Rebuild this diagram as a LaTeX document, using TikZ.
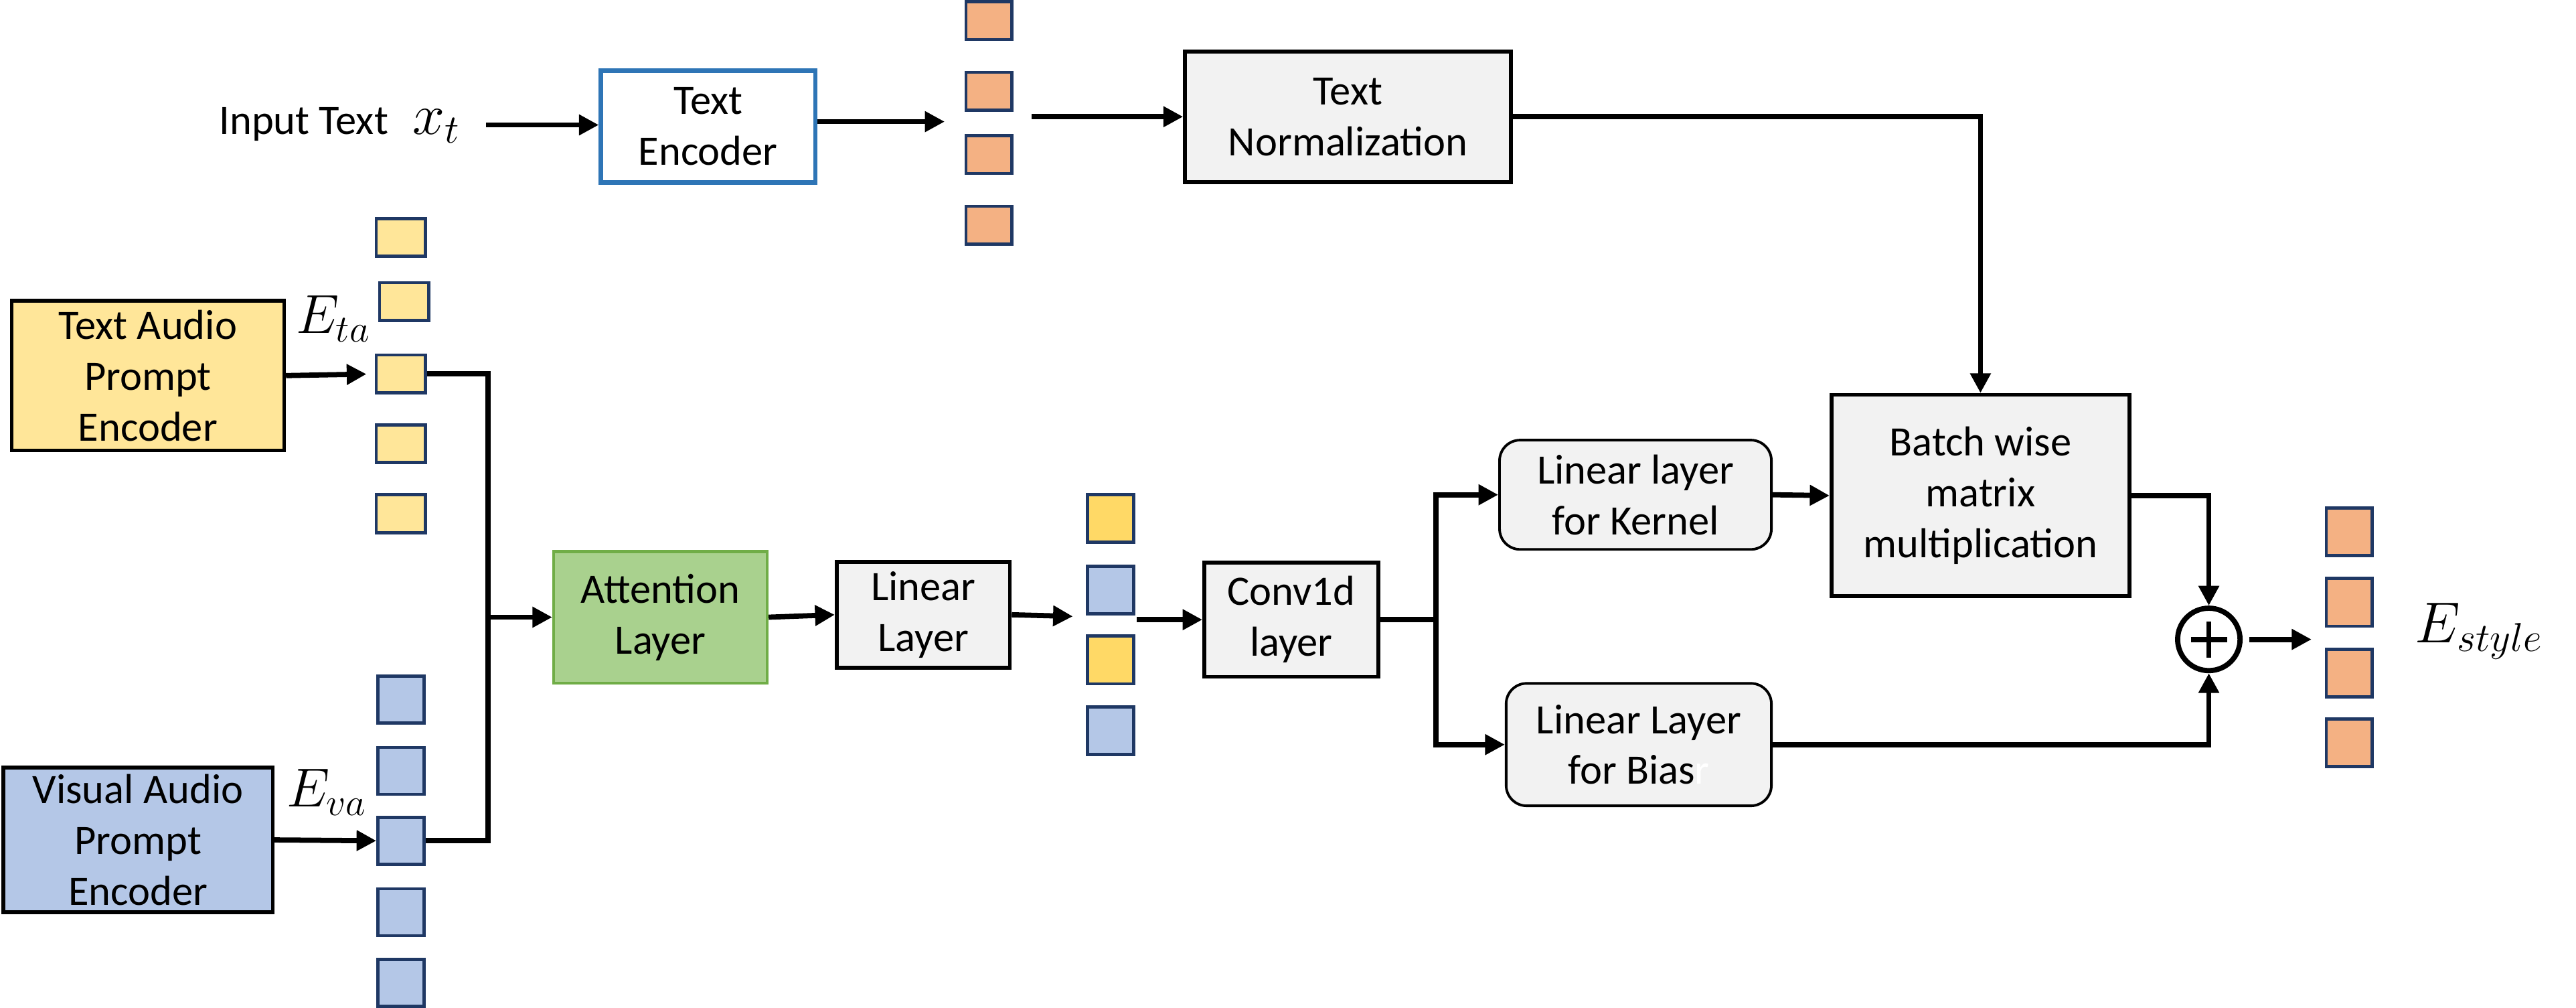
\RequirePackage{fix-cm}
\documentclass[tikz,border=0pt]{standalone}
\usepackage{fontspec}
\setmainfont{Carlito}
\usetikzlibrary{arrows.meta}
\definecolor{tapeyellow}{HTML}{FFE699}
\definecolor{midyellow}{HTML}{FFD966}
\definecolor{vapeblue}{HTML}{B4C7E7}
\definecolor{outorange}{HTML}{F4B183}
\definecolor{sqborder}{HTML}{1F3864}
\definecolor{attgreen}{HTML}{A9D18E}
\definecolor{attborder}{HTML}{70AD47}
\definecolor{boxgray}{HTML}{F2F2F2}
\definecolor{encblue}{HTML}{2E75B6}

\begin{document}
\begin{tikzpicture}[x=0.02cm, y=-0.02cm,
    block/.style={rectangle, draw, line width=1.3pt, fill=boxgray, align=center, inner sep=0pt, font=\fontsize{14.5}{17.6}\selectfont},
    rblock/.style={block, rounded corners=0.25cm, line width=0.9pt},
    vec/.style={rectangle, draw=sqborder, line width=1.1pt, inner sep=0pt, minimum width=0.56cm, minimum height=0.58cm},
    sumnode/.style={circle, draw, line width=1.8pt, minimum size=0.76cm, inner sep=0pt,
        path picture={\draw [line width=1.8pt] ([xshift=-0.22cm]path picture bounding box.center) -- ([xshift=0.22cm]path picture bounding box.center)
            ([yshift=-0.22cm]path picture bounding box.center) -- ([yshift=0.22cm]path picture bounding box.center);}},
    lbl/.style={inner sep=0pt, font=\fontsize{19}{19}\selectfont}]
    \useasboundingbox (0,0) rectangle (1568,613);

    \node [inner sep=0.3cm, font=\fontsize{14.5}{17.6}\selectfont] (inp) at (207,76) {Input Text\hspace{0.3cm}{\fontsize{20}{20}\selectfont$x_t$}};

    \node [block, fill=white, draw=encblue, line width=1.5pt, minimum width=2.61cm, minimum height=1.36cm] (tenc) at (431,77) {Text\\Encoder};
    \node [block, minimum width=3.97cm, minimum height=1.59cm] (tnorm) at (820.5,71) {Text\\Normalization};
    \node [block, fill=tapeyellow, line width=1.25pt, minimum width=3.32cm, minimum height=1.82cm] (tape) at (90,228.5) {Text Audio\\Prompt\\Encoder};
    \node [block, fill=vapeblue, line width=1.25pt, minimum width=3.28cm, minimum height=1.76cm] (vape) at (84,511) {Visual Audio\\Prompt\\Encoder};
    \node [block, fill=attgreen, draw=attborder, line width=1pt, minimum width=2.6cm, minimum height=1.6cm] (att) at (402,375.5) {Attention\\Layer};
    \node [block, minimum width=2.11cm, minimum height=1.29cm] (lin) at (562,374) {Linear\\Layer};
    \node [block, minimum width=2.12cm, minimum height=1.39cm] (conv) at (786,377) {Conv1d\\layer};
    \node [rblock, minimum width=3.31cm, minimum height=1.33cm] (kern) at (995.5,301) {Linear layer\\for Kernel};
    \node [rblock, minimum width=3.23cm, minimum height=1.49cm] (bias) at (997.5,453) {Linear Layer\\for Bias\textcolor{white}{r}};
    \node [block, minimum width=3.63cm, minimum height=2.45cm] (batch) at (1205.5,301.5) {Batch wise\\matrix\\multiplication};
    \node [sumnode] (sum) at (1344.5,389) {};

    \begin{scope}[every node/.style={vec, fill=outorange, minimum height=0.46cm}]
        \node (tv1) at (602,12.5) {};
        \node (tv2) at (602,55.5) {};
        \node (tv3) at (602,94) {};
        \node (tv4) at (602,137) {};
    \end{scope}

    \begin{scope}[every node/.style={vec, fill=tapeyellow, minimum width=0.6cm, minimum height=0.46cm}]
        \node (ya1) at (244,144.5) {};
        \node (ya2) at (246,183.5) {};
        \node (ya3) at (244,227.5) {};
        \node (ya4) at (244,270) {};
        \node (ya5) at (244,312.5) {};
    \end{scope}

    \begin{scope}[every node/.style={vec, fill=vapeblue, minimum height=0.57cm}]
        \node (vb1) at (244,425.5) {};
        \node (vb2) at (244,469) {};
        \node (vb3) at (244,511.5) {};
        \node (vb4) at (244,555) {};
        \node (vb5) at (244,598) {};
    \end{scope}

    \begin{scope}[every node/.style={vec}]
        \node [fill=midyellow] (mv1) at (676,315.5) {};
        \node [fill=vapeblue] (mv2) at (676,359) {};
        \node [fill=midyellow] (mv3) at (676,401.5) {};
        \node [fill=vapeblue] (mv4) at (676,444.5) {};

        \node [fill=outorange] (ov1) at (1430,323.5) {};
        \node [fill=outorange] (ov2) at (1430,366.5) {};
        \node [fill=outorange] (ov3) at (1430,409.5) {};
        \node [fill=outorange] (ov4) at (1430,452) {};
    \end{scope}

    \node [lbl] (eta) at (203,194) {$E_{ta}$};
    \node [lbl] (eva) at (199,482) {$E_{va}$};
    \node [lbl, font=\fontsize{20}{20}\selectfont] (esty) at (1509,384) {$E_{style}$};

    \coordinate (tin) at (575,74);
    \coordinate (tout) at (628,71);
    \coordinate (join) at (297,375.5);
    \coordinate (min) at (653,375);
    \coordinate (mout) at (692,377);
    \coordinate (fork) at (874,377);
    \coordinate (oin) at (1407,389);

    \begin{scope}[line width=1.8pt, -{Triangle[length=0.24cm, width=0.24cm]}]
        \draw (inp.east) -- (tenc.west |- inp.east);
        \draw (tenc.east |- tin) -- (tin);
        \draw (tout) -- (tnorm.west);
        \draw (tnorm.east) -| (batch.north);
        \draw [shorten >=0.1cm] (tape.east) -- (ya3.west);
        \draw (vape.east) -- (vb3.west);
        \draw [-] (ya3.east) -| (join) |- (vb3.east);
        \draw (join) -- (att.west);
        \draw (att.east) -- (lin.west);
        \draw (lin.east) -- (min);
        \draw (mout) -- (conv.west);
        \draw [-] (conv.east) -- (fork);
        \draw (fork) |- (kern.west);
        \draw (fork) |- (bias.west);
        \draw (kern.east) -- (batch.west);
        \draw (batch.east) -| (sum.north);
        \draw (bias.east) -| (sum.south);
        \draw [shorten <=0.08cm] (sum.east) -- (oin);
    \end{scope}
\end{tikzpicture}
\end{document}
